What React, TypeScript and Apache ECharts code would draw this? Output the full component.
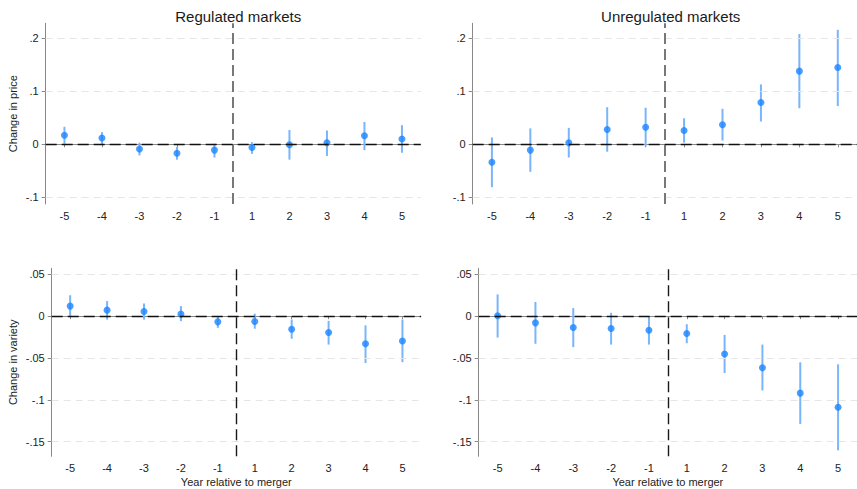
import React, { useEffect, useRef } from "react";
import * as echarts from "echarts";

const xLabels = ["-5", "-4", "-3", "-2", "-1", "1", "2", "3", "4", "5"];
const mergerBreak = 5.5;

const priceTicks = [-0.1, 0, 0.1, 0.2];
const varietyTicks = [-0.15, -0.1, -0.05, 0, 0.05];

// Regulated markets, change in price
const regPriceEst = [0.017, 0.012, -0.009, -0.017, -0.011, -0.006, -0.001, 0.003, 0.016, 0.010];
const regPriceLo = [0.001, 0.0, -0.021, -0.029, -0.025, -0.018, -0.029, -0.022, -0.011, -0.016];
const regPriceHi = [0.033, 0.023, 0.003, -0.005, 0.001, 0.004, 0.027, 0.026, 0.042, 0.036];

// Unregulated markets, change in price
const unrPriceEst = [-0.034, -0.011, 0.003, 0.028, 0.032, 0.026, 0.037, 0.079, 0.138, 0.145];
const unrPriceLo = [-0.081, -0.052, -0.025, -0.014, -0.004, 0.003, 0.007, 0.043, 0.068, 0.072];
const unrPriceHi = [0.013, 0.030, 0.031, 0.070, 0.069, 0.049, 0.067, 0.113, 0.208, 0.216];

// Regulated markets, change in variety
const regVarEst = [0.012, 0.0072, 0.0056, 0.0024, -0.0068, -0.0064, -0.0156, -0.0196, -0.033, -0.0296];
const regVarLo = [0.0, -0.004, -0.004, -0.006, -0.014, -0.015, -0.027, -0.034, -0.056, -0.055];
const regVarHi = [0.025, 0.018, 0.015, 0.012, -0.001, 0.003, -0.004, -0.0056, -0.011, -0.004];

// Unregulated markets, change in variety
const unrVarEst = [0.0004, -0.008, -0.0136, -0.0148, -0.0168, -0.0208, -0.0452, -0.0616, -0.092, -0.1088];
const unrVarLo = [-0.0256, -0.033, -0.037, -0.034, -0.034, -0.0324, -0.068, -0.0888, -0.1288, -0.1604];
const unrVarHi = [0.026, 0.017, 0.0096, 0.004, -0.0004, -0.0096, -0.0224, -0.034, -0.0552, -0.0576];

const FONT = "Liberation Sans, Arial, sans-serif";
const POINT = "#1a85ff";
const CI = "#78b5fb";

const fmtY = (v: number) => {
  if (Math.abs(v) < 1e-9) return "0";
  const s = String(+v.toFixed(4));
  return s.replace(/^(-?)0\./, "$1.");
};

const positions = xLabels.map((_, i) => i + 1);

type Panel = {
  est: number[];
  lo: number[];
  hi: number[];
  ticks: number[];
  min: number;
  max: number;
  grid: { left: number; top: number; width: number; height: number };
  yName: string;
  yNameGap: number;
  xName: string;
  title: string;
  vColor: string;
  vWidth: number;
};

const panels: Panel[] = [
  {
    est: regPriceEst, lo: regPriceLo, hi: regPriceHi, ticks: priceTicks,
    min: -0.1127, max: 0.2283,
    grid: { left: 45.7, top: 23.3, width: 375, height: 180.7 },
    yName: "Change in price", yNameGap: 27, xName: "", title: "Regulated markets",
    vColor: "#6a6a6a", vWidth: 1.8,
  },
  {
    est: unrPriceEst, lo: unrPriceLo, hi: unrPriceHi, ticks: priceTicks,
    min: -0.1127, max: 0.2283,
    grid: { left: 472.7, top: 23.3, width: 386, height: 180.7 },
    yName: "", yNameGap: 27, xName: "", title: "Unregulated markets",
    vColor: "#6a6a6a", vWidth: 1.8,
  },
  {
    est: regVarEst, lo: regVarLo, hi: regVarHi, ticks: varietyTicks,
    min: -0.1675, max: 0.0572,
    grid: { left: 51.7, top: 268.3, width: 369.2, height: 188 },
    yName: "Change in variety", yNameGap: 33, xName: "Year relative to merger", title: "",
    vColor: "#1a1a1a", vWidth: 1.4,
  },
  {
    est: unrVarEst, lo: unrVarLo, hi: unrVarHi, ticks: varietyTicks,
    min: -0.1675, max: 0.0572,
    grid: { left: 478.7, top: 268.3, width: 380.3, height: 188 },
    yName: "", yNameGap: 33, xName: "Year relative to merger", title: "",
    vColor: "#1a1a1a", vWidth: 1.4,
  },
];

export default function App() {
  const ref = useRef<HTMLDivElement>(null);
  useEffect(() => {
    if (!ref.current) return;
    const chart = echarts.init(ref.current, null, { renderer: "svg" });

    const grid: any[] = [];
    const xAxis: any[] = [];
    const yAxis: any[] = [];
    const series: any[] = [];
    const title: any[] = [];

    panels.forEach((p, k) => {
      grid.push({ ...p.grid, containLabel: false });
      xAxis.push({
        type: "value",
        gridIndex: k,
        min: 0.5,
        max: 10.5,
        name: p.xName,
        nameLocation: "middle",
        nameGap: 20,
        nameTextStyle: { fontFamily: FONT, fontSize: 11, color: "#222" },
        axisLine: { show: true, lineStyle: { color: "#888", width: 1 } },
        axisTick: { show: true, length: 3, customValues: positions, lineStyle: { color: "#888" } },
        axisLabel: {
          customValues: positions,
          margin: 6,
          fontFamily: FONT,
          fontSize: 11,
          color: "#222",
          formatter: (v: number) => xLabels[Math.round(v) - 1] ?? "",
        },
        splitLine: { show: false },
      });
      yAxis.push({
        type: "value",
        gridIndex: k,
        min: p.min,
        max: p.max,
        name: p.yName,
        nameLocation: "middle",
        nameGap: p.yNameGap,
        nameRotate: 90,
        nameTextStyle: { fontFamily: FONT, fontSize: 11, color: "#222" },
        axisLine: { show: true, lineStyle: { color: "#888", width: 1 } },
        axisTick: { show: true, length: 4, customValues: p.ticks, lineStyle: { color: "#888" } },
        axisLabel: {
          customValues: p.ticks,
          margin: 7,
          fontFamily: FONT,
          fontSize: 11,
          color: "#222",
          formatter: (v: number) => fmtY(v),
        },
        splitLine: { show: false },
      });
      if (p.title) {
        title.push({
          text: p.title,
          left: p.grid.left + p.grid.width / 2,
          top: 4,
          textAlign: "center",
          textStyle: { fontFamily: FONT, fontSize: 15, fontWeight: "normal", color: "#1a1a1a" },
        });
      }
      // grid lines
      series.push({
        type: "line",
        xAxisIndex: k,
        yAxisIndex: k,
        data: [],
        z: 1,
        silent: true,
        markLine: {
          silent: true,
          symbol: "none",
          label: { show: false },
          lineStyle: { color: "#e6e6e6", type: [7, 5], width: 1 },
          data: p.ticks.filter((t) => Math.abs(t) > 1e-9).map((t) => ({ yAxis: t })),
        },
      });
      // reference lines
      series.push({
        type: "line",
        xAxisIndex: k,
        yAxisIndex: k,
        data: [],
        z: 2,
        silent: true,
        markLine: {
          silent: true,
          symbol: "none",
          label: { show: false },
          data: [
            { yAxis: 0, lineStyle: { color: "#111", type: [11, 5], width: 1.4 } },
            { xAxis: mergerBreak, lineStyle: { color: p.vColor, type: [11, 5], width: p.vWidth } },
          ],
        },
      });
      // confidence intervals
      series.push({
        type: "custom",
        xAxisIndex: k,
        yAxisIndex: k,
        z: 3,
        silent: true,
        data: positions.map((x, i) => [x, p.lo[i], p.hi[i]]),
        encode: { x: 0, y: [1, 2] },
        renderItem: (_params: any, api: any) => {
          const x = api.value(0);
          const a = api.coord([x, api.value(1)]);
          const b = api.coord([x, api.value(2)]);
          return {
            type: "line",
            shape: { x1: a[0], y1: a[1], x2: b[0], y2: b[1] },
            style: { stroke: CI, lineWidth: 2 },
          };
        },
      });
      // point estimates
      series.push({
        type: "scatter",
        xAxisIndex: k,
        yAxisIndex: k,
        z: 4,
        symbol: "circle",
        symbolSize: 7,
        itemStyle: { color: POINT },
        data: positions.map((x, i) => [x, p.est[i]]),
      });
    });

    chart.setOption({
      animation: false,
      backgroundColor: "#ffffff",
      title,
      grid,
      xAxis,
      yAxis,
      series,
    });
    return () => chart.dispose();
  }, []);

  return (
    <div
      ref={ref}
      style={{ position: "fixed", left: 0, top: 0, width: 857, height: 489 }}
    />
  );
}
